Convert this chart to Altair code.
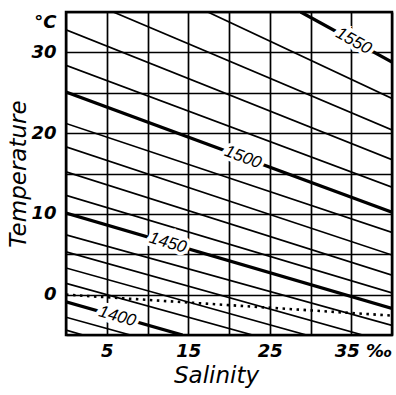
import math
import altair as alt
import pandas as pd

# Sound-speed isolines (m/s): endpoints (salinity ‰, temperature °C)
speeds  = [1380, 1390, 1400, 1410, 1420, 1430, 1440, 1450, 1460, 1470, 1480, 1490, 1500, 1510, 1520, 1530, 1540, 1550]
s_start = [0.0,  0.0,  0.0,  0.0,  0.0,  0.0,  0.0,  0.0,  0.0,  0.0,  0.0,  0.0,  0.0,  0.0,  0.0,  5.8, 17.4, 28.8]
t_start = [-4.4, -2.8, -0.9, 1.4,  3.3,  5.3,  7.4, 10.1, 12.3, 15.2, 18.3, 21.2, 25.1, 28.4, 32.8, 35.0, 35.0, 35.0]
s_end   = [2.1,  7.9, 14.3, 22.9, 29.5, 36.4, 40.0, 40.0, 40.0, 40.0, 40.0, 40.0, 40.0, 40.0, 40.0, 40.0, 40.0, 40.0]
t_end   = [-5.0, -5.0, -5.0, -5.0, -5.0, -5.0, -3.8, -1.7, 0.2,  2.4,  4.9,  7.7, 10.2, 13.3, 16.7, 20.4, 24.3, 28.8]

# Labelled isolines and where their labels sit (salinity)
label_speeds = [1400, 1450, 1500, 1550]
label_s      = [6.3, 12.5, 21.7, 35.3]

# Freezing line (dotted)
freeze_s = [0.0, 40.0]
freeze_t = [0.0, -2.6]

x_ticks = [0, 5, 10, 15, 20, 25, 30, 35, 40]
y_ticks = [-5, 0, 5, 10, 15, 20, 25, 30, 35]

W, H = 326, 323
X_DOM, Y_DOM = [0, 40], [-5, 35]

rows = []
for c, s0, t0, s1, t1 in zip(speeds, s_start, t_start, s_end, t_end):
    rows.append({"speed": c, "S": s0, "T": t0, "o": 0})
    rows.append({"speed": c, "S": s1, "T": t1, "o": 1})
lines_df = pd.DataFrame(rows)

lab_rows = []
for c, s in zip(label_speeds, label_s):
    i = speeds.index(c)
    slope = (t_end[i] - t_start[i]) / (s_end[i] - s_start[i])
    t = t_start[i] + slope * (s - s_start[i])
    px_slope = -slope * (H / (Y_DOM[1] - Y_DOM[0])) / (W / (X_DOM[1] - X_DOM[0]))
    lab_rows.append({"S": s, "T": t, "txt": str(c), "ang": math.degrees(math.atan(px_slope))})
lab_df = pd.DataFrame(lab_rows)

fz_df = pd.DataFrame({"S": freeze_s, "T": freeze_t})

FONT = "Liberation Sans"
TFONT = "DejaVu Sans"

xs = alt.Scale(domain=X_DOM, nice=False, zero=False)
ys = alt.Scale(domain=Y_DOM, nice=False, zero=False)

x_axis = alt.Axis(
    values=x_ticks, grid=True, gridColor="black", gridWidth=1.7, gridOpacity=1,
    domain=False, ticks=False, labelOverlap=False,
    labelExpr="datum.value % 10 == 5 ? (datum.value == 35 ? '35 ‰' : datum.label) : ''",
    labelAlign={"condition": {"test": "datum.value == 35", "value": "left"}, "value": "center"},
    labelOffset={"condition": {"test": "datum.value == 35", "value": -17}, "value": 0},
    labelFont=TFONT, labelFontSize=18, labelFontStyle="italic", labelFontWeight="bold",
    labelColor="black", labelPadding=7,
    title="Salinity", titleFont=TFONT, titleFontSize=23, titleFontStyle="italic",
    titleFontWeight="normal", titleColor="black", titlePadding=4, titleX=150,
)
y_axis = alt.Axis(
    values=y_ticks, grid=True, gridColor="black", gridWidth=1.7, gridOpacity=1,
    domain=False, ticks=False, labelOverlap=False,
    labelExpr="datum.value == 35 ? '°C' : (datum.value % 10 == 0 ? datum.label : '')",
    labelOffset={"condition": {"test": "datum.value == 35", "value": 10}, "value": 0},
    labelFont=TFONT, labelFontSize=18, labelFontStyle="italic", labelFontWeight="bold",
    labelColor="black", labelPadding=10,
    title="Temperature", titleFont=TFONT, titleFontSize=23, titleFontStyle="italic",
    titleFontWeight="normal", titleColor="black", titlePadding=0,
)

base_lines = alt.Chart(lines_df).mark_line(color="black", clip=True).encode(
    x=alt.X("S:Q", scale=xs, axis=x_axis),
    y=alt.Y("T:Q", scale=ys, axis=y_axis),
    detail="speed:N",
    order="o:Q",
    strokeWidth=alt.condition("datum.speed % 50 == 0", alt.value(3.3), alt.value(1.7)),
)

freeze = alt.Chart(fz_df).mark_line(
    color="black", strokeWidth=2.6, strokeDash=[2.5, 4.5], clip=True
).encode(x=alt.X("S:Q", scale=xs), y=alt.Y("T:Q", scale=ys))

halo = alt.Chart(lab_df).mark_text(
    font=FONT, fontSize=17, fontStyle="italic", fill="white", stroke="white", strokeWidth=7
).encode(x=alt.X("S:Q", scale=xs), y=alt.Y("T:Q", scale=ys), text="txt:N", angle=alt.Angle("ang:Q", scale=None))

labels = alt.Chart(lab_df).mark_text(
    font=FONT, fontSize=17, fontStyle="italic", color="black"
).encode(x=alt.X("S:Q", scale=xs), y=alt.Y("T:Q", scale=ys), text="txt:N", angle=alt.Angle("ang:Q", scale=None))

chart = alt.layer(base_lines, freeze, halo, labels).properties(
    width=W, height=H,
    autosize=alt.AutoSizeParams(type="none"),
    padding={"left": 66, "top": 12, "right": 4, "bottom": 60},
    background="white",
).configure_view(stroke="black", strokeWidth=2.5)

chart.save("out.html", embed_options={"renderer": "svg", "actions": False})
